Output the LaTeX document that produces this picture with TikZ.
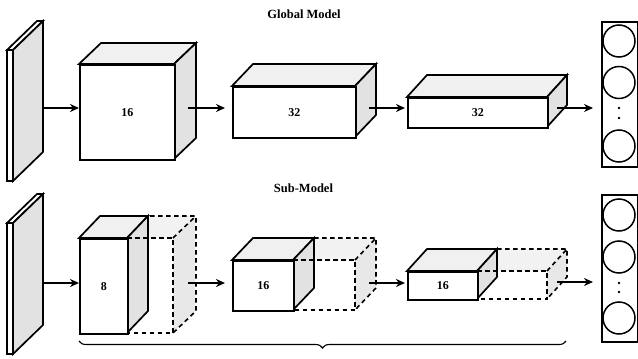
\documentclass[tikz,border=0pt]{standalone}
\usepackage{fontspec}
\setmainfont{Liberation Serif}
\usetikzlibrary{arrows.meta,decorations.pathreplacing}

\definecolor{topgray}{gray}{0.94}
\definecolor{sidegray}{gray}{0.885}
\definecolor{ghosttop}{gray}{0.95}
\definecolor{ghostside}{gray}{0.91}

\tikzset{
  face/.style={draw=black, line width=1.7pt, line join=miter},
  ghostline/.style={draw=black, line width=1.6pt, dash pattern=on 4.5pt off 3.5pt},
  arr/.style={line width=1.6pt, -{Stealth[length=9pt,width=8pt]}},
  lbl/.style={font=\bfseries\fontsize{12}{14}\selectfont},
  outbox/.style={draw=black, line width=1.7pt, fill=white, inner sep=0pt},
  neuron/.style={draw=black, line width=1.5pt, circle, minimum size=32pt, inner sep=0pt},
  dotmark/.style={fill=black, circle, minimum size=2.6pt, inner sep=0pt},
  title/.style={font=\bfseries\fontsize{12.5}{14}\selectfont}
}

% cuboid: #1 name, front face (#2,#3)-(#4,#5), depth (#6,#7), label #8
\newcommand\cuboid[8]{%
  \draw[face, fill=topgray] (#2,#3) -- ++(#6,-#7) -- ++({#4-#2},0) -- (#4,#3) -- cycle;
  \draw[face, fill=sidegray] (#4,#3) -- ++(#6,-#7) -- ++(0,{#5-#3}) -- (#4,#5) -- cycle;
  \node[face, fill=white, minimum width={(#4-#2)*1pt}, minimum height={(#5-#3)*1pt},
        inner sep=0pt, anchor=north west, lbl] (#1) at (#2,#3) {#8};
}
% pruned part of a layer: front right edge #1, top #2, bottom #3, full right edge #4, depth (#5,#6)
\newcommand\ghostfill[6]{%
  \fill[ghosttop] (#1,#2) -- ++(#5,-#6) -- ({#4+#5},{#2-#6}) -- (#4,#2) -- cycle;
  \fill[ghostside] (#4,#2) -- ++(#5,-#6) -- ++(0,{#3-#2}) -- (#4,#3) -- cycle;
}
\newcommand\ghostedges[6]{%
  \draw[ghostline] (#1,#2) -- (#4,#2) -- (#4,#3) -- (#1,#3);
  \draw[ghostline] ({#1+#5},{#2-#6}) -- ({#4+#5},{#2-#6}) -- ({#4+#5},{#3-#6}) -- (#4,#3);
  \draw[ghostline] (#4,#2) -- ({#4+#5},{#2-#6});
}
% input slab: front face x #1..#2, y #3..#4, depth (#5,#6)
\newcommand\slab[6]{%
  \draw[face, fill=white] (#1,#3) -- ++(#5,-#6) -- ({#2+#5},{#3-#6}) -- (#2,#3) -- cycle;
  \draw[face, fill=sidegray] (#2,#3) -- ++(#5,-#6) -- ({#2+#5},{#4-#6}) -- (#2,#4) -- cycle;
  \draw[face, fill=white] (#1,#3) rectangle (#2,#4);
}

\begin{document}
\begin{tikzpicture}[x=1pt, y=-1pt]
\useasboundingbox (0,0) rectangle (638,359);

% ---------------- global model ----------------
\node[title] (tg) at (304,14) {Global Model};

\slab{7}{13}{50}{181}{30}{29}
\cuboid{g1}{79}{64}{174}{159}{22}{21}{16}
\cuboid{g2}{232}{86}{355}{137}{21}{22}{32}
\cuboid{g3}{407}{97}{547}{127}{20}{22}{32}

\node[outbox, minimum width=36pt, minimum height=145pt, anchor=north west] (go) at (601,21) {};
\node[neuron] (gn1) at (619,41) {};
\node[neuron] (gn2) at (619,82.5) {};
\node[neuron] (gn3) at (619,146) {};
\node[dotmark] (gd1) at (619,108) {};
\node[dotmark] (gd2) at (619,118) {};

\coordinate (gs0) at (43,108);
\coordinate (gs1) at (188,108);
\coordinate (gs2) at (369,108);
\coordinate (gs3) at (557,108);
\draw[arr] (gs0) -- (gs0 -| g1.west);
\draw[arr, shorten >=7pt] (gs1) -- (gs1 -| g2.west);
\draw[arr, shorten >=2pt] (gs2) -- (gs2 -| g3.west);
\draw[arr, shorten >=8pt] (gs3) -- (gs3 -| go.west);

% ---------------- sub-model ----------------
\node[title] (ts) at (303.5,188) {Sub-Model};

\slab{7}{13}{223}{354}{30}{29}

\ghostfill{127}{238}{333}{173}{22}{22}
\cuboid{s1}{79}{238}{127}{333}{21}{22}{8}
\ghostedges{127}{238}{333}{173}{23}{22}

\ghostfill{293}{260}{310}{355}{21}{22}
\cuboid{s2}{232}{260}{293}{310}{21}{22}{16}
\ghostedges{293}{260}{310}{355}{21}{22}

\ghostfill{477}{271}{299}{547}{20}{22}
\cuboid{s3}{407}{271}{477}{299}{20}{22}{16}
\ghostedges{477}{271}{299}{547}{20}{22}

\node[outbox, minimum width=36pt, minimum height=147pt, anchor=north west] (so) at (601,194) {};
\node[neuron] (sn1) at (619,215) {};
\node[neuron] (sn2) at (619,257) {};
\node[neuron] (sn3) at (619,318) {};
\node[dotmark] (sd1) at (619,283) {};
\node[dotmark] (sd2) at (619,292) {};

\coordinate (ss0) at (43,283);
\coordinate (ss1) at (188,283);
\coordinate (ss2) at (369,283);
\coordinate (ss3) at (557,282);
\draw[arr] (ss0) -- (ss0 -| s1.west);
\draw[arr, shorten >=7pt] (ss1) -- (ss1 -| s2.west);
\draw[arr, shorten >=2pt] (ss2) -- (ss2 -| s3.west);
\draw[arr, shorten >=8pt] (ss3) -- (ss3 -| so.west);

% brace under the sub-model layers
\coordinate (br) at (566,341);
\coordinate (bl) at (79,341);
\draw[line width=1.1pt, decorate, decoration={brace, amplitude=7pt}] (br) -- (bl);

\end{tikzpicture}
\end{document}
